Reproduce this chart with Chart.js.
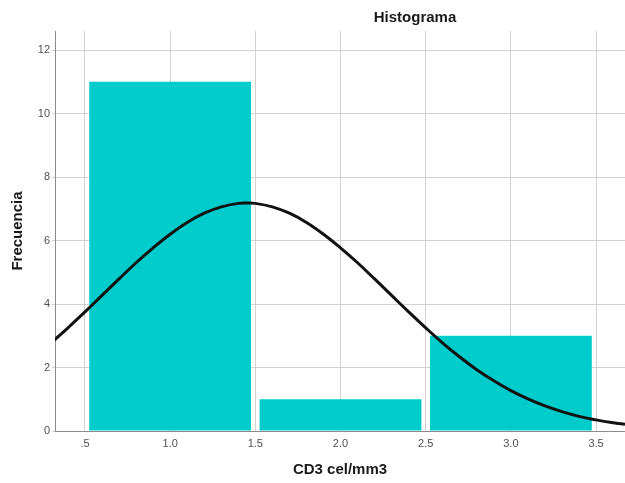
<!DOCTYPE html>
<html>
<head>
<meta charset="utf-8">
<title>Histograma</title>
<script src="https://cdn.jsdelivr.net/npm/chart.js@4/dist/chart.umd.min.js"></script>
<style>
  html, body { margin: 0; padding: 0; background: #ffffff; }
  canvas { display: block; }
</style>
</head>
<body>
<canvas id="hist" width="625" height="483"></canvas>
<script>
// Histogram bins (centre of each bin) and their counts
const binCenters = [1.0, 2.0, 3.0];
const frequencies = [11, 1, 3];

// Fitted normal curve, sampled along the x axis
const curveX = [0.32, 0.4, 0.5, 0.6, 0.7, 0.8, 0.9, 1.0, 1.1, 1.2, 1.3, 1.4, 1.45, 1.5, 1.6, 1.7, 1.8, 1.9, 2.0,
                2.1, 2.2, 2.3, 2.4, 2.5, 2.6, 2.7, 2.8, 2.9, 3.0, 3.1, 3.2, 3.3, 3.4, 3.5, 3.6, 3.67];
const curveY = [2.86, 3.25, 3.75, 4.27, 4.79, 5.30, 5.77, 6.20, 6.57, 6.86, 7.06, 7.17, 7.18, 7.17, 7.06, 6.86, 6.57, 6.20, 5.77,
                5.30, 4.79, 4.27, 3.75, 3.25, 2.77, 2.33, 1.93, 1.58, 1.27, 1.01, 0.79, 0.61, 0.46, 0.35, 0.26, 0.21];

// Axis ticks
const xTickValues = [0.5, 1.0, 1.5, 2.0, 2.5, 3.0, 3.5];
const xTickLabels = ['.5', '1.0', '1.5', '2.0', '2.5', '3.0', '3.5'];
const yTickValues = [0, 2, 4, 6, 8, 10, 12];
const yTickLabels = ['0', '2', '4', '6', '8', '10', '12'];

const chartTitle = 'Histograma';
const xTitle = 'CD3 cel/mm3';
const yTitle = 'Frecuencia';

const barData = binCenters.map((c, i) => ({ x: c, y: frequencies[i] }));
const curveData = curveX.map((x, i) => ({ x: x, y: curveY[i] }));

// Title placed over the right-hand part of the plot
const titlePlugin = {
  id: 'histTitle',
  afterDraw(chart) {
    const ctx = chart.ctx;
    ctx.save();
    ctx.font = 'bold 15px "Liberation Sans", Arial, sans-serif';
    ctx.fillStyle = '#1a1a1a';
    ctx.textAlign = 'center';
    ctx.textBaseline = 'middle';
    ctx.fillText(chartTitle, 415, 18);
    ctx.restore();
  }
};

const tickFont = { family: '"Liberation Sans", Arial, sans-serif', size: 11 };
const titleFont = { family: '"Liberation Sans", Arial, sans-serif', size: 15, weight: 'bold' };

new Chart(document.getElementById('hist'), {
  data: {
    datasets: [
      {
        type: 'line',
        data: curveData,
        borderColor: '#111111',
        borderWidth: 3,
        pointRadius: 0,
        fill: false,
        tension: 0.4,
        order: 0
      },
      {
        type: 'bar',
        data: barData,
        backgroundColor: '#00cccc',
        borderWidth: 0,
        // bar slot is one tick interval (0.5); bins are 1.0 wide with a small gap
        barPercentage: 1.9,
        categoryPercentage: 1.0,
        order: 1
      }
    ]
  },
  options: {
    responsive: false,
    animation: false,
    layout: { padding: { top: 31, right: 0, bottom: 0, left: 0 } },
    plugins: {
      legend: { display: false },
      tooltip: { enabled: false },
      title: { display: false }
    },
    scales: {
      x: {
        type: 'linear',
        min: 0.324,
        max: 3.67,
        offset: false,
        afterBuildTicks(scale) { scale.ticks = xTickValues.map(v => ({ value: v })); },
        afterFit(scale) { scale.height = 52; },
        ticks: {
          autoSkip: false,
          maxRotation: 0,
          padding: 6,
          color: '#505050',
          font: tickFont,
          callback(value) {
            const i = xTickValues.findIndex(v => Math.abs(v - value) < 1e-6);
            return i >= 0 ? xTickLabels[i] : '';
          }
        },
        grid: { color: '#d2d2d2', lineWidth: 1, drawTicks: false, offset: false },
        border: { display: true, color: '#8c8c8c', width: 1 },
        title: { display: true, text: xTitle, color: '#1a1a1a', font: titleFont, padding: { top: 0, bottom: 4 } }
      },
      y: {
        type: 'linear',
        min: 0,
        max: 12.6,
        afterBuildTicks(scale) { scale.ticks = yTickValues.map(v => ({ value: v })); },
        afterFit(scale) { scale.width = 55; },
        ticks: {
          padding: 2,
          color: '#505050',
          font: tickFont,
          callback(value) {
            const i = yTickValues.indexOf(value);
            return i >= 0 ? yTickLabels[i] : '';
          }
        },
        grid: { color: '#d2d2d2', lineWidth: 1, drawTicks: true, tickLength: 3 },
        border: { display: true, color: '#8c8c8c', width: 1 },
        title: { display: true, text: yTitle, color: '#1a1a1a', font: titleFont, padding: { top: 9, bottom: 0 } }
      }
    }
  },
  plugins: [titlePlugin]
});
</script>
</body>
</html>
